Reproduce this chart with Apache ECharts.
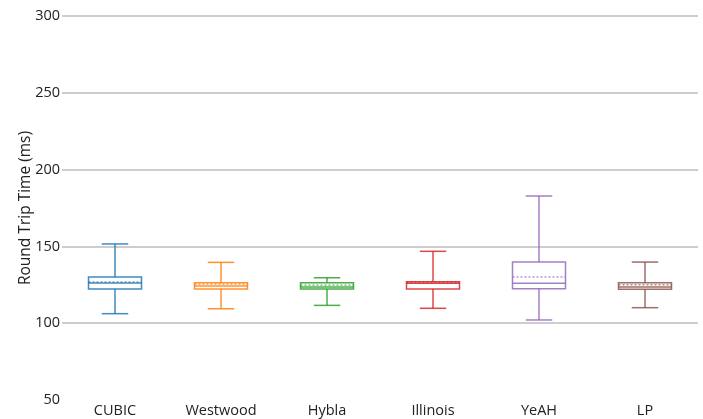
<!DOCTYPE html>
<html>
<head>
<meta charset="utf-8">
<script src="https://cdn.jsdelivr.net/npm/echarts@6/dist/echarts.min.js"></script>
<style>
  html, body { margin: 0; padding: 0; background: #fff; }
  #chart { width: 703px; height: 419px; }
</style>
</head>
<body>
<div id="chart"></div>
<script>
// Round trip time per TCP congestion control algorithm (ms)
const categories = ['CUBIC', 'Westwood', 'Hybla', 'Illinois', 'YeAH', 'LP'];
const lowerFence = [106.2, 109.4, 111.6, 109.7, 102.1, 110.1];
const q1         = [122.3, 122.3, 122.3, 122.3, 122.5, 122.1];
const median     = [126.2, 124.3, 123.5, 126.0, 126.0, 123.6];
const q3         = [130.1, 126.4, 126.4, 127.0, 139.8, 126.4];
const upperFence = [151.6, 139.6, 129.6, 146.8, 182.8, 139.8];
const mean       = [126.8, 125.4, 124.8, 126.7, 130.1, 125.0];
const colors = ['#1f77b4', '#ff7f0e', '#2ca02c', '#d62728', '#9467bd', '#8c564b'];
const yTicks = { min: 50, max: 300, step: 50 };

const boxData = categories.map((c, i) =>
  [i, lowerFence[i], q1[i], median[i], q3[i], upperFence[i], mean[i]]);

function renderBox(params, api) {
  const idx = api.value(0);
  const cx = api.coord([idx, 0])[0];
  const band = api.size([1, 0])[0];
  const hb = band * 0.25;   // half box width
  const hc = band * 0.125;  // half whisker cap width
  const y = v => api.coord([idx, v])[1];
  const yMin = y(api.value(1)), yQ1 = y(api.value(2)), yMed = y(api.value(3));
  const yQ3 = y(api.value(4)), yMax = y(api.value(5)), yMean = y(api.value(6));
  const col = colors[params.dataIndex];
  const st = { stroke: col, lineWidth: 1.5, fill: null, opacity: 0.85 };
  return {
    type: 'group',
    children: [
      { type: 'rect', shape: { x: cx - hb, y: yQ3, width: 2 * hb, height: yQ1 - yQ3 },
        style: { stroke: col, lineWidth: 1.5, fill: '#fff', opacity: 0.85 } },
      { type: 'line', shape: { x1: cx - hb, y1: yMed, x2: cx + hb, y2: yMed }, style: st },
      { type: 'line', shape: { x1: cx - hb, y1: yMean, x2: cx + hb, y2: yMean },
        style: { stroke: col, lineWidth: 1.2, lineDash: [2, 2], opacity: 0.85 } },
      { type: 'line', shape: { x1: cx, y1: yQ3, x2: cx, y2: yMax }, style: st },
      { type: 'line', shape: { x1: cx, y1: yQ1, x2: cx, y2: yMin }, style: st },
      { type: 'line', shape: { x1: cx - hc, y1: yMax, x2: cx + hc, y2: yMax }, style: st },
      { type: 'line', shape: { x1: cx - hc, y1: yMin, x2: cx + hc, y2: yMin }, style: st }
    ]
  };
}

const chart = echarts.init(document.getElementById('chart'), null, { renderer: 'canvas' });
chart.setOption({
  animation: false,
  backgroundColor: '#fff',
  textStyle: { fontFamily: 'Open Sans' },
  grid: { left: 62, right: 5, top: 16, bottom: 19 },
  xAxis: {
    type: 'category',
    data: categories,
    axisLine: { show: false },
    axisTick: { show: false },
    splitLine: { show: false },
    axisLabel: { color: '#222', fontSize: 14.5, fontFamily: 'Open Sans', margin: 3 }
  },
  yAxis: {
    type: 'value',
    min: yTicks.min, max: yTicks.max, interval: yTicks.step,
    name: 'Round Trip Time (ms)',
    nameLocation: 'middle',
    nameGap: 28,
    nameMoveOverlap: false,
    nameTextStyle: { color: '#222', fontSize: 15.5, fontFamily: 'Open Sans' },
    axisLine: { show: false },
    axisTick: { show: false },
    axisLabel: { color: '#222', fontSize: 14.5, fontFamily: 'Open Sans', margin: 2 },
    splitLine: { show: true, showMinLine: false, lineStyle: { color: '#bdbdbd', width: 1.5 } }
  },
  series: [{
    type: 'custom',
    renderItem: renderBox,
    encode: { x: 0, y: [1, 2, 3, 4, 5, 6] },
    data: boxData
  }]
});
</script>
</body>
</html>
